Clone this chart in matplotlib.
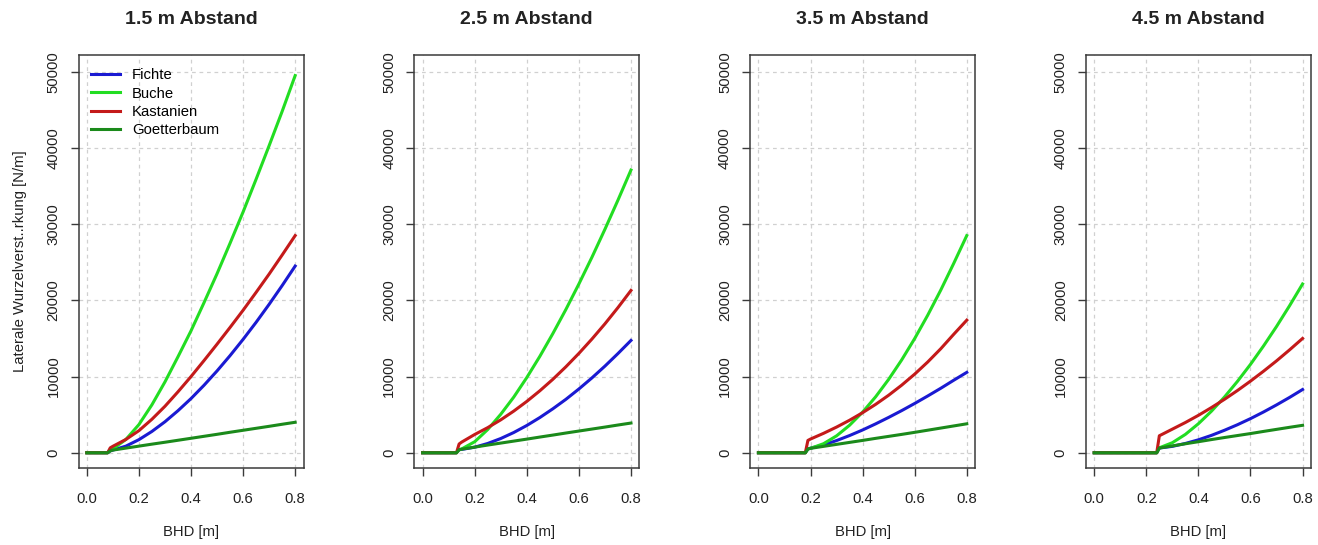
import matplotlib
matplotlib.use("Agg")
import matplotlib.pyplot as plt

plt.rcParams["font.family"] = ["Liberation Sans", "DejaVu Sans"]

# Stem diameter (BHD, m) sampled per distance panel
bhd_15 = [0.0, 0.08, 0.09, 0.10, 0.15, 0.20, 0.25, 0.30, 0.35, 0.40, 0.45, 0.50, 0.55, 0.60, 0.65, 0.70, 0.75, 0.80]
bhd_25 = [0.0, 0.13, 0.14, 0.15, 0.20, 0.25, 0.30, 0.35, 0.40, 0.45, 0.50, 0.55, 0.60, 0.65, 0.70, 0.75, 0.80]
bhd_35 = [0.0, 0.18, 0.19, 0.20, 0.25, 0.30, 0.35, 0.40, 0.45, 0.50, 0.55, 0.60, 0.65, 0.70, 0.75, 0.80]
bhd_45 = [0.0, 0.24, 0.25, 0.30, 0.35, 0.40, 0.45, 0.50, 0.55, 0.60, 0.65, 0.70, 0.75, 0.80]

# Lateral root reinforcement (N/m), 1.5 m distance
fichte_15 = [0, 0, 250, 350, 870, 1720, 2800, 4070, 5520, 7110, 8860, 10740, 12750, 14880, 17120, 19480, 21940, 24500]
buche_15 = [0, 0, 300, 500, 1750, 3700, 6300, 9300, 12600, 16000, 19700, 23500, 27500, 31600, 35900, 40300, 44800, 49500]
kastanien_15 = [0, 0, 650, 850, 1750, 2900, 4400, 6100, 8000, 10000, 12100, 14250, 16450, 18700, 21050, 23450, 25950, 28500]
goetterbaum_15 = [0, 0, 250, 350, 610, 870, 1130, 1380, 1640, 1900, 2160, 2420, 2690, 2950, 3210, 3470, 3740, 4000]

# 2.5 m distance
fichte_25 = [0, 0, 400, 440, 730, 1220, 1870, 2660, 3580, 4620, 5770, 7010, 8370, 9820, 11370, 13020, 14740]
buche_25 = [0, 0, 400, 500, 1450, 3050, 5050, 7310, 9870, 12650, 15640, 18800, 22150, 25650, 29330, 33150, 37100]
kastanien_25 = [0, 0, 1150, 1400, 2400, 3300, 4320, 5470, 6740, 8130, 9640, 11280, 13040, 14920, 16920, 19050, 21300]
goetterbaum_25 = [0, 0, 400, 470, 740, 1010, 1270, 1530, 1790, 2060, 2320, 2590, 2850, 3110, 3370, 3640, 3900]

# 3.5 m distance
fichte_35 = [0, 0, 500, 600, 1030, 1600, 2260, 2990, 3790, 4640, 5530, 6470, 7450, 8460, 9520, 10550]
buche_35 = [0, 0, 500, 580, 1190, 2220, 3610, 5330, 7340, 9630, 12180, 14990, 18050, 21340, 24860, 28500]
kastanien_35 = [0, 0, 1620, 1800, 2550, 3370, 4270, 5260, 6350, 7550, 8870, 10320, 11910, 13650, 15550, 17400]
goetterbaum_35 = [0, 0, 500, 580, 840, 1100, 1360, 1620, 1890, 2150, 2410, 2680, 2960, 3240, 3520, 3800]

# 4.5 m distance
fichte_45 = [0, 0, 620, 840, 1220, 1700, 2280, 2950, 3680, 4480, 5350, 6280, 7260, 8300]
buche_45 = [0, 0, 650, 1320, 2410, 3810, 5450, 7310, 9370, 11600, 14010, 16570, 19290, 22150]
kastanien_45 = [0, 0, 2230, 3100, 3970, 4910, 5930, 7010, 8170, 9400, 10700, 12060, 13500, 15000]
goetterbaum_45 = [0, 0, 620, 900, 1180, 1450, 1730, 2000, 2260, 2520, 2800, 3070, 3340, 3600]

species = ["Fichte", "Buche", "Kastanien", "Goetterbaum"]
colors = ["#1a1ad2", "#22dd22", "#c41a1a", "#1b8a1b"]
titles = ["1.5 m Abstand", "2.5 m Abstand", "3.5 m Abstand", "4.5 m Abstand"]

panels = [
    (bhd_15, [fichte_15, buche_15, kastanien_15, goetterbaum_15]),
    (bhd_25, [fichte_25, buche_25, kastanien_25, goetterbaum_25]),
    (bhd_35, [fichte_35, buche_35, kastanien_35, goetterbaum_35]),
    (bhd_45, [fichte_45, buche_45, kastanien_45, goetterbaum_45]),
]

xticks = [0.0, 0.2, 0.4, 0.6, 0.8]
xticklabels = ["0.0", "0.2", "0.4", "0.6", "0.8"]
yticks = [0, 10000, 20000, 30000, 40000, 50000]
yticklabels = ["0", "10000", "20000", "30000", "40000", "50000"]

W, H = 1318, 545
fig = plt.figure(figsize=(W / 100, H / 100), dpi=100)

frame_col = "#3a3a3a"
text_col = "#222222"
fs = 10.7

for i, (bhd, series) in enumerate(panels):
    left_px = 78.5 + i * 335.8
    ax = fig.add_axes([left_px / W, 1 - 468 / H, 225 / W, 413 / H])
    for name, col, vals in zip(species, colors, series):
        ax.plot(bhd, vals, color=col, lw=2.2, label=name, solid_joinstyle="round")
    ax.set_xlim(-0.032, 0.832)
    ax.set_ylim(-2000, 52200)
    ax.set_xticks(xticks)
    ax.set_xticklabels(xticklabels)
    ax.set_yticks(yticks)
    ax.set_yticklabels(yticklabels, rotation=90, va="center")
    ax.grid(True, color="#d0d0d0", linestyle=(0, (3, 3)), linewidth=0.9)
    ax.set_axisbelow(True)
    for sp in ax.spines.values():
        sp.set_color(frame_col)
        sp.set_linewidth(1.1)
    ax.tick_params(axis="both", colors=frame_col, labelcolor=text_col,
                   length=6, width=1.0, labelsize=fs)
    ax.tick_params(axis="x", pad=11)
    ax.tick_params(axis="y", pad=7)
    ax.set_title(titles[i], fontsize=14, fontweight="bold", color=text_col, pad=22)
    ax.set_xlabel("BHD [m]", fontsize=fs, color=text_col, labelpad=14)
    if i == 0:
        ax.set_ylabel("Laterale Wurzelverst..rkung [N/m]", fontsize=fs,
                      color=text_col, labelpad=14)
        ax.legend(loc="upper left", bbox_to_anchor=(0.057, 0.968), frameon=False,
                  fontsize=fs, handlelength=1.9, handletextpad=0.85,
                  labelspacing=0.29, borderaxespad=0, borderpad=0)

fig.savefig("out.png", dpi=100)
